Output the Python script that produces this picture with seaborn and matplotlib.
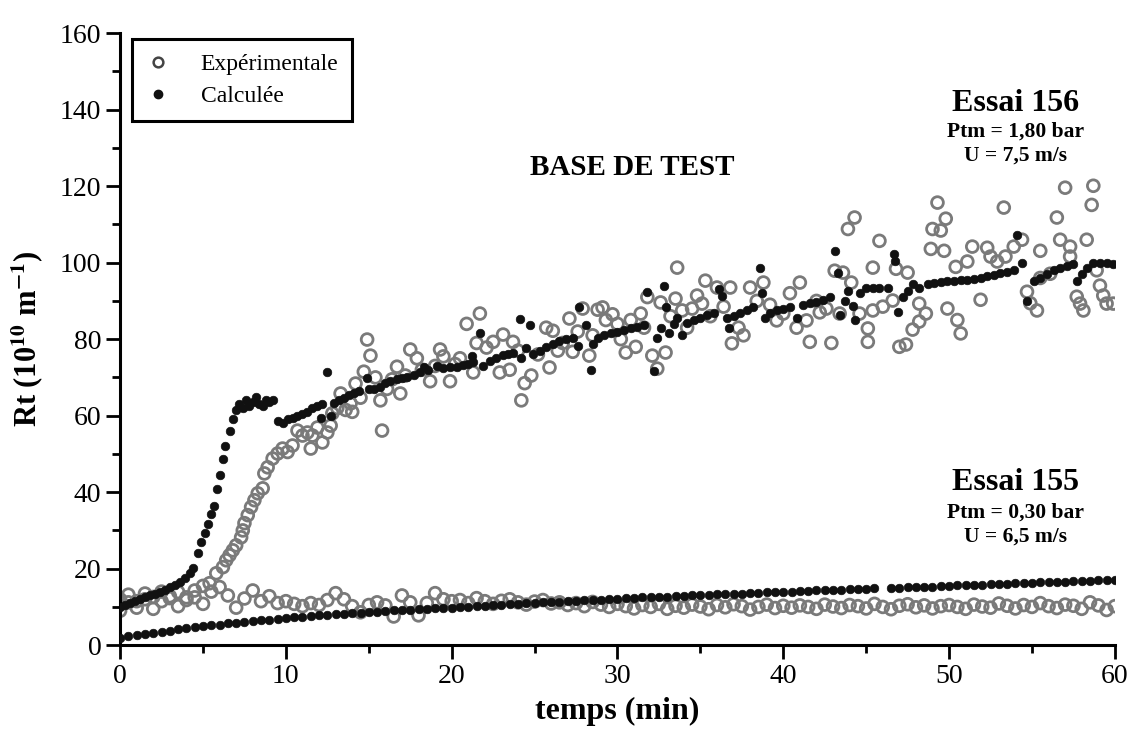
import numpy as np
import pandas as pd
import matplotlib
matplotlib.use("Agg")
import matplotlib.pyplot as plt
from matplotlib.lines import Line2D
from matplotlib.ticker import MultipleLocator
import seaborn as sns

# Essai 155 - sampled every 30 s
t155 = np.arange(0, 60.5, 0.5)
calc155 = [
    2.0, 2.3, 2.6, 2.9, 3.2, 3.5, 3.8, 4.1, 4.4, 4.7, 4.9, 5.2, 5.4, 5.7, 5.9, 6.1, 6.3, 6.5, 6.7, 6.9, 7.1,
    7.3, 7.4, 7.6, 7.8, 7.9, 8.1, 8.2, 8.4, 8.5, 8.7, 8.8, 8.9, 9.1, 9.2, 9.3, 9.4, 9.5, 9.6, 9.7, 9.8,
    9.9, 10.0, 10.2, 10.3, 10.4, 10.6, 10.7, 10.8, 10.9, 11.0, 11.2, 11.3, 11.4, 11.5, 11.6, 11.7, 11.8, 11.9, 12.1, 12.2,
    12.3, 12.4, 12.5, 12.6, 12.6, 12.7, 12.8, 12.9, 13.0, 13.1, 13.2, 13.3, 13.3, 13.4, 13.5, 13.6, 13.7, 13.8, 13.9, 13.9,
    14.0, 14.1, 14.2, 14.3, 14.3, 14.4, 14.5, 14.6, 14.7, 14.8, 14.9, np.nan, 14.9, 15.0, 15.1, 15.2, 15.2, 15.3, 15.4, 15.5,
    15.6, 15.7, 15.7, 15.8, 15.9, 16.0, 16.1, 16.2, 16.2, 16.3, 16.4, 16.5, 16.6, 16.6, 16.7, 16.8, 16.9, 17.0, 17.0, 17.1,
]
exp155 = [
    9.0, 11.2, 9.8, 12.0, 9.5, 11.5, 12.3, 10.2, 11.8, 12.5, 10.8, 14.0, 15.2, 13.0, 9.8, 12.2, 14.3, 11.5, 12.8, 11.0, 11.5,
    10.8, 10.2, 11.0, 10.5, 11.8, 13.6, 12.0, 10.2, 8.6, 10.5, 11.2, 10.4, 7.5, 13.0, 11.2, 7.8, 11.0, 13.6, 12.0, 11.5,
    11.8, 11.0, 12.3, 11.5, 10.8, 11.6, 12.0, 11.2, 10.6, 11.4, 11.8, 10.9, 11.2, 10.5, 11.0, 10.2, 11.3, 10.6, 10.0, 10.8,
    10.2, 9.6, 10.5, 10.0, 10.8, 9.5, 10.3, 9.8, 10.6, 10.1, 9.4, 10.5, 9.9, 10.7, 10.2, 9.3, 10.0, 10.6, 9.7, 10.3,
    9.8, 10.4, 10.0, 9.5, 10.6, 10.1, 9.7, 10.5, 10.2, 9.6, 10.8, 10.0, 9.4, 10.3, 10.7, 9.9, 10.4, 9.6, 10.2, 10.5,
    10.0, 9.5, 10.6, 10.1, 9.8, 10.9, 10.3, 9.6, 10.5, 10.0, 11.0, 10.2, 9.7, 10.6, 10.3, 9.5, 11.2, 10.4, 9.2, 10.2,
]

# Essai 156 - calculated
t156_calc = [
    0, 0.3, 0.6, 0.9, 1.2, 1.5, 1.8, 2.1, 2.4, 2.7, 3.0, 3.3, 3.6, 3.9, 4.2, 4.4,
    4.7, 4.9, 5.1, 5.3, 5.5, 5.65, 5.85, 6.0, 6.2, 6.35, 6.6, 6.8,
    7.0, 7.2, 7.4, 7.6, 7.8, 8.0, 8.2, 8.4, 8.6, 8.8, 9.0, 9.2,
    9.5, 9.8, 10.1, 10.4, 10.7, 11.0, 11.3, 11.6, 11.9, 12.1, 12.2, 12.5, 12.7, 12.9, 13.2, 13.5, 13.8,
    14.1, 14.4, 14.9, 15.0, 15.3, 15.7, 16.0, 16.3, 16.7, 17.0, 17.3, 17.7, 18.1, 18.3, 18.6, 19.1,
    19.5, 19.9, 20.3, 20.7, 21.0, 21.2, 21.3, 21.7, 21.9, 22.3, 22.7, 23.1, 23.4, 23.7, 24.1, 24.2,
    24.5, 24.7, 24.9, 25.3, 25.7, 26.1, 26.5, 26.9, 27.3, 27.6, 27.7, 28.1, 28.4, 28.5, 28.8, 29.2,
    29.6, 30.0, 30.4, 30.8, 31.2, 31.6, 31.8, 32.2, 32.4, 32.6, 32.8, 32.9, 33.1, 33.4, 33.6, 33.9,
    34.2, 34.6, 35.0, 35.4, 35.8, 36.1, 36.3, 36.6, 36.7, 37.0, 37.4, 37.8, 38.2, 38.6, 38.7, 38.9,
    39.2, 39.6, 40.0, 40.4, 40.8, 41.2, 41.6, 42.0, 42.4, 42.8, 43.1, 43.3, 43.4, 43.7, 43.9, 44.2,
    44.3, 44.6, 45.0, 45.4, 45.8, 46.3, 46.7, 46.75, 46.9, 47.2, 47.5, 47.8, 48.2, 48.7, 49.1, 49.5,
    49.9, 50.3, 50.7, 51.1, 51.5, 51.9, 52.3, 52.7, 53.1, 53.5, 53.9, 54.1, 54.4, 54.7, 55.1, 55.5,
    55.9, 56.3, 56.7, 57.1, 57.5, 57.7, 58.0, 58.3, 58.7, 59.1, 59.5, 59.9,
]
calc156 = [
    10, 10.6, 11.1, 11.6, 12, 12.5, 13, 13.4, 13.9, 14.5, 15.1, 15.8, 16.6, 17.6, 18.8, 20.2,
    24, 27, 29.2, 31.6, 34.2, 36.5, 40.7, 44.4, 48.8, 52, 55.9, 59,
    61.5, 63, 62, 64, 62.5, 63.5, 65, 63, 62.5, 64, 63.5, 64,
    58.5, 58, 59, 59.5, 60, 60.5, 61, 62, 62.5, 59.3, 63, 71.5, 60, 63.2, 64, 64.5, 65.3,
    66, 66.5, 69.8, 67, 67, 67.4, 68.5, 69, 69.5, 69.8, 70, 70.7, 71.3, 72.8, 72, 73.1,
    72.5, 72.8, 72.6, 73.2, 73.6, 75.7, 73.9, 81.5, 73.1, 74.2, 75.2, 75.8, 76.2, 76.5, 85.4, 75.2,
    77.8, 83.8, 76.2, 77, 78, 78.8, 79.5, 80, 80.4, 78.3, 88.3, 83.6, 72, 78.8, 80.4, 81,
    81.5, 82, 82.5, 83, 83.3, 83.6, 92.2, 71.8, 80.2, 82.8, 94, 88.3, 81.7, 84, 85.6, 81,
    84.3, 85, 85.6, 86.2, 86.8, 93.2, 91.4, 85.6, 82.8, 86, 86.8, 87.5, 88.3, 98.7, 92, 85.6,
    86.8, 87.5, 88, 88.4, 85.6, 89, 89.4, 89.8, 90.3, 90.9, 103.1, 97.4, 86.2, 90.1, 92.7, 88.8,
    84.9, 92, 93.5, 93.5, 93.5, 93.5, 102.3, 100.5, 87, 90.9, 92.5, 94.5, 93.5, 94.5, 94.8, 95,
    95.2, 95.3, 95.4, 95.5, 95.7, 96, 96.4, 96.8, 97.2, 97.6, 98, 107.3, 100, 90, 95.3, 96,
    97, 98, 98.7, 99.2, 99.7, 95.3, 97, 98.7, 100, 100, 99.8, 99.7,
]

# Essai 156 - experimental
t156_exp = [
    0, 0.5, 1, 1.5, 2, 2.5, 3, 3.5, 4, 4.5, 5,
    5.4, 5.8, 6.2, 6.4, 6.6, 6.8, 7.0, 7.3, 7.4, 7.5, 7.7, 7.9, 8.1, 8.3, 8.6, 8.7, 8.9, 9.2, 9.5, 9.8,
    10.1, 10.4, 10.7, 11.0, 11.3, 11.5, 11.6, 11.9, 12.2, 12.5, 12.7, 12.8, 13.1, 13.3, 13.6, 13.9, 14.0,
    14.2, 14.5, 14.7, 14.9, 15.1, 15.4, 15.7, 15.8, 16.1, 16.4, 16.7, 16.9, 17.2, 17.5, 17.9, 18.2, 18.7,
    19.0, 19.3, 19.5, 19.9, 20.2, 20.5, 20.9, 21.3, 21.5, 21.7, 22.1, 22.5, 22.9, 23.1, 23.5, 23.7, 24.0,
    24.2, 24.4, 24.8, 25.2, 25.7, 25.9, 26.1, 26.4, 26.7, 27.1, 27.3, 27.6, 27.9, 28.3, 28.5, 28.8, 29.1,
    29.3, 29.7, 30.0, 30.2, 30.5, 30.8, 31.1, 31.4, 31.6, 31.8, 32.1, 32.4, 32.6, 32.9, 33.2, 33.5, 33.6,
    33.9, 34.2, 34.5, 34.8, 35.1, 35.3, 35.6, 36.0, 36.4, 36.8, 36.9, 37.3, 37.6, 38.0, 38.4, 38.8, 39.2,
    39.6, 40.0, 40.4, 40.8, 41.0, 41.4, 41.6, 42.0, 42.2, 42.6, 42.9, 43.1, 43.4, 43.6, 43.9, 44.1, 44.3,
    44.6, 45.1, 45.1, 45.4, 45.4, 45.8, 46.0, 46.6, 46.8, 47.0, 47.4, 47.5, 47.8, 48.2, 48.2, 48.6, 48.9,
    49.0, 49.3, 49.5, 49.7, 49.8, 49.9, 50.4, 50.5, 50.7, 51.1, 51.4, 51.9, 52.3, 52.5, 52.9, 53.3, 53.4,
    53.9, 54.4, 54.7, 54.9, 55.3, 55.5, 55.5, 56.1, 56.5, 56.7, 57.0, 57.3, 57.3, 57.7, 57.9, 58.1, 58.3,
    58.6, 58.7, 58.9, 59.1, 59.3, 59.5, 59.9,
]
exp156 = [
    12, 13.2, 11.5, 13.5, 12.6, 14, 12.8, 13.9, 12.5, 14.3, 15.5,
    16.2, 18.8, 20.4, 22.2, 23.5, 24.8, 26.1, 28.2, 30, 31.9, 34, 36.1, 37.9, 39.7, 41, 44.9, 46.5, 48.8, 50.1, 51.4,
    50.5, 52.2, 56.1, 54.8, 55.6, 51.4, 54.8, 56.9, 53, 55.6, 57.4, 60.6, 62, 65.8, 61.5, 63.2, 61,
    68.4, 64.7, 71.5, 79.9, 75.7, 70, 64, 56.1, 67, 69.5, 72.8, 65.8, 70.5, 77.3, 75, 72, 69,
    73, 77.3, 75.5, 69, 73.5, 75, 84, 71.3, 79, 86.7, 77.8, 79.3, 71.3, 81.2, 72, 79.3, 77,
    64, 68.5, 70.5, 76, 83, 72.6, 82.2, 77, 79, 85.4, 76.7, 82, 88, 75.7, 81, 87.7, 88.3,
    85, 86.5, 84, 80, 76.5, 85, 78, 86.7, 83, 91, 75.7, 72.3, 89.6, 76.5, 86, 90.6, 98.7,
    87.5, 83, 88, 91.4, 89.3, 95.3, 86, 93.5, 88.5, 93.5, 78.9, 83, 81, 93.5, 90, 94.8, 89,
    84.9, 86.7, 92, 83, 94.8, 84.9, 79.3, 90, 87, 88, 79, 97.9, 86.7, 97.4, 108.8, 94.8, 111.8,
    86.7, 82.8, 79.3, 87.5, 98.7, 105.7, 88.5, 90.1, 98.4, 78, 78.6, 97.4, 82.5, 84.6, 89.3, 86.7, 103.6,
    108.8, 115.7, 108.4, 103.1, 111.5, 88, 98.9, 85, 81.5, 100.3, 104.2, 90.3, 103.9, 101.6, 100.3, 114.4, 101.6,
    104.2, 106, 92.4, 89.4, 87.5, 103.1, 96, 97.1, 111.8, 106, 119.6, 104.2, 101.6, 91.1, 89.3, 87.5, 106,
    115.1, 120.1, 98, 94, 91.4, 89.3, 89.3,
]

exp = pd.concat([pd.DataFrame({"t": t155, "Rt": exp155}),
                 pd.DataFrame({"t": t156_exp, "Rt": exp156})], ignore_index=True)
calc = pd.concat([pd.DataFrame({"t": t155, "Rt": calc155}),
                  pd.DataFrame({"t": t156_calc, "Rt": calc156})], ignore_index=True)

sns.set_theme(style="ticks")
plt.rcParams["font.family"] = ["Liberation Serif", "DejaVu Serif"]
plt.rcParams["mathtext.fontset"] = "stix"
plt.rcParams["text.color"] = "black"
plt.rcParams["axes.labelcolor"] = "black"

grey = "#7a7a7a"
fig = plt.figure(figsize=(11.33, 7.45), dpi=100)
ax = fig.add_axes([0.106, 0.134, 0.878, 0.8215])

sns.scatterplot(data=exp, x="t", y="Rt", ax=ax, marker="o", s=72,
                facecolor="none", edgecolor=grey, linewidth=2.0, zorder=2)
sns.scatterplot(data=calc, x="t", y="Rt", ax=ax, marker="o", s=38,
                color="#111111", edgecolor="#111111", linewidth=0.5, zorder=3)

ax.set_xlim(0, 60)
ax.set_ylim(0, 160)
ax.xaxis.set_major_locator(MultipleLocator(10))
ax.xaxis.set_minor_locator(MultipleLocator(5))
ax.yaxis.set_major_locator(MultipleLocator(20))
ax.yaxis.set_minor_locator(MultipleLocator(10))
ax.tick_params(which="major", length=10, width=2, labelsize=20, direction="out",
               colors="black", labelcolor="black")
ax.tick_params(which="minor", length=6, width=2, direction="out", colors="black")
for side in ["top", "right"]:
    ax.spines[side].set_visible(False)
for side in ["left", "bottom"]:
    ax.spines[side].set_linewidth(2.2)
    ax.spines[side].set_color("black")

ax.set_xlabel("temps (min)", fontsize=23, fontweight="bold", labelpad=6)
ax.set_ylabel(r"Rt (10$^{\mathbf{10}}$ m$^{\mathbf{-1}}$)", fontsize=22, fontweight="bold", labelpad=10)

ax.text(30.9, 125, "BASE DE TEST", fontsize=21, fontweight="bold", ha="center", va="center")
ax.text(54, 141.5, "Essai 156", fontsize=23, fontweight="bold", ha="center", va="center")
ax.text(54, 134.3, "Ptm = 1,80 bar", fontsize=15.5, fontweight="bold", ha="center", va="center")
ax.text(54, 128, "U = 7,5 m/s", fontsize=15.5, fontweight="bold", ha="center", va="center")
ax.text(54, 42.5, "Essai 155", fontsize=23, fontweight="bold", ha="center", va="center")
ax.text(54, 34.7, "Ptm = 0,30 bar", fontsize=15.5, fontweight="bold", ha="center", va="center")
ax.text(54, 28.3, "U = 6,5 m/s", fontsize=15.5, fontweight="bold", ha="center", va="center")

handles = [
    Line2D([], [], marker="o", linestyle="none", markersize=7, markerfacecolor="none",
           markeredgecolor="#444444", markeredgewidth=1.8, label="Expérimentale"),
    Line2D([], [], marker="o", linestyle="none", markersize=6, color="#111111", label="Calculée"),
]
leg = ax.legend(handles=handles, loc="upper left", bbox_to_anchor=(0.012, 0.99), borderaxespad=0,
                fontsize=17, frameon=True, fancybox=False, handlelength=1.0,
                handletextpad=1.3, borderpad=0.6, labelspacing=0.45, framealpha=1)
leg.get_frame().set_edgecolor("black")
leg.get_frame().set_linewidth(2.2)

fig.savefig("out.png", dpi=100)
